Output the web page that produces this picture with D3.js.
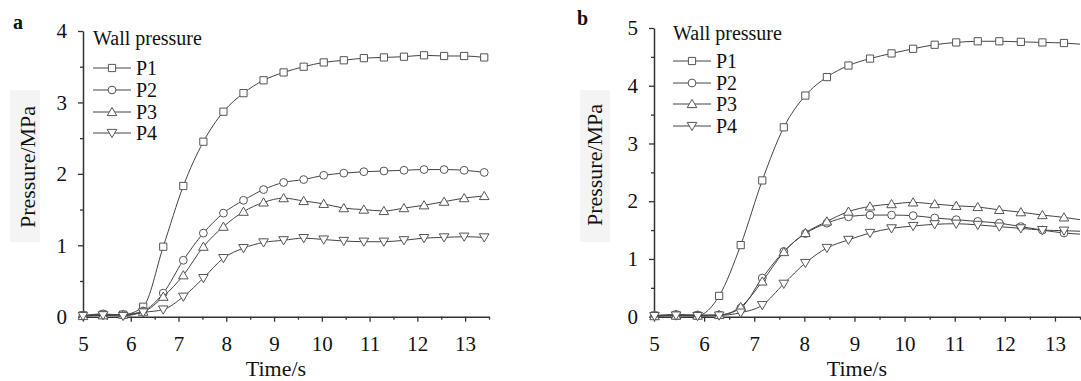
<!DOCTYPE html>
<html>
<head>
<meta charset="utf-8">
<script src="https://cdn.jsdelivr.net/npm/d3@7/dist/d3.min.js"></script>
<style>
  body { margin: 0; background: #fff; }
  svg { display: block; }
  svg text { font-family: "Liberation Serif", "Times New Roman", serif !important; }
</style>
</head>
<body>
<svg width="1081" height="381"></svg>
<script>
// marker times (s) and wall pressures (MPa)
var timeA = [5.00, 5.42, 5.84, 6.26, 6.68, 7.10, 7.52, 7.94, 8.36, 8.78, 9.20, 9.62, 10.04, 10.46, 10.88, 11.30, 11.72, 12.14, 12.56, 12.98, 13.40]
var p1A = [0.02, 0.03, 0.03, 0.14, 0.98, 1.83, 2.45, 2.87, 3.13, 3.31, 3.42, 3.50, 3.56, 3.59, 3.62, 3.63, 3.64, 3.66, 3.65, 3.65, 3.63]
var p2A = [0.01, 0.04, 0.02, 0.08, 0.33, 0.79, 1.17, 1.45, 1.63, 1.78, 1.88, 1.92, 1.98, 2.01, 2.03, 2.04, 2.05, 2.06, 2.06, 2.05, 2.02]
var p3A = [0.01, 0.02, 0.03, 0.07, 0.28, 0.58, 0.98, 1.26, 1.47, 1.60, 1.66, 1.62, 1.58, 1.52, 1.50, 1.48, 1.52, 1.56, 1.61, 1.66, 1.69]
var p4A = [0.01, 0.02, 0.01, 0.06, 0.10, 0.28, 0.54, 0.82, 0.96, 1.04, 1.07, 1.10, 1.08, 1.06, 1.05, 1.05, 1.07, 1.10, 1.11, 1.12, 1.11]

// panel b: last point is where the line meets the right edge (no marker)
var timeB = [5.01, 5.44, 5.87, 6.30, 6.73, 7.16, 7.59, 8.02, 8.45, 8.88, 9.31, 9.74, 10.17, 10.60, 11.03, 11.46, 11.89, 12.32, 12.75, 13.18, 13.50]
var p1B = [0.02, 0.02, 0.02, 0.36, 1.24, 2.36, 3.28, 3.83, 4.15, 4.35, 4.47, 4.56, 4.64, 4.71, 4.75, 4.77, 4.77, 4.76, 4.75, 4.74, 4.72]
var p2B = [0.02, 0.04, 0.03, 0.03, 0.15, 0.67, 1.13, 1.44, 1.62, 1.73, 1.76, 1.76, 1.75, 1.71, 1.68, 1.65, 1.62, 1.56, 1.50, 1.45, 1.43]
var p3B = [0.01, 0.02, 0.02, 0.03, 0.17, 0.61, 1.12, 1.45, 1.65, 1.82, 1.91, 1.95, 1.98, 1.95, 1.92, 1.90, 1.85, 1.81, 1.76, 1.72, 1.68]
var p4B = [0.01, 0.02, 0.01, 0.02, 0.07, 0.20, 0.57, 0.93, 1.19, 1.33, 1.45, 1.53, 1.57, 1.60, 1.61, 1.59, 1.56, 1.53, 1.50, 1.49, 1.48]

var seriesNames = ['P1', 'P2', 'P3', 'P4']
var symbols = ['square', 'circle', 'up', 'down']
var xTicks = [5, 6, 7, 8, 9, 10, 11, 12, 13]
var xMinor = [5.5, 6.5, 7.5, 8.5, 9.5, 10.5, 11.5, 12.5, 13.5]
var yTicksA = [0, 1, 2, 3, 4]
var yMinorA = [0.5, 1.5, 2.5, 3.5]
var yTicksB = [0, 1, 2, 3, 4, 5]
var yMinorB = [0.5, 1.5, 2.5, 3.5, 4.5]

const svg = d3.select('svg')

var panels = [
  { tag: 'a', tagX: 13, tagY: 29, time: timeA, vals: [p1A, p2A, p3A, p4A], marks: 21,
    x: d3.scaleLinear().domain([5, 13.5]).range([83, 489]),
    y: d3.scaleLinear().domain([0, 4]).range([316.7, 31]),
    yTicks: yTicksA, yMinor: yMinorA,
    legX: 93, legTitleY: 45, legY: [68, 90, 112, 133],
    yTitle: [35, 167], boxX: 10, xTitle: [276, 376] },
  { tag: 'b', tagX: 577, tagY: 25, time: timeB, vals: [p1B, p2B, p3B, p4B], marks: 20,
    x: d3.scaleLinear().domain([5, 13.5]).range([654, 1080]),
    y: d3.scaleLinear().domain([0, 5]).range([316.7, 28]),
    yTicks: yTicksB, yMinor: yMinorB,
    legX: 673, legTitleY: 40, legY: [61, 83, 104, 126],
    yTitle: [602, 165], boxX: 580, xTitle: [857, 376] }
]

function markerPath(kind) {
  if (kind === 'square') return 'M-3.6,-3.6H3.6V3.6H-3.6Z'
  if (kind === 'circle') return d3.symbol(d3.symbolCircle, 48)()
  if (kind === 'up') return 'M0,-4.6L4.8,3.6L-4.8,3.6Z'
  return 'M0,4.6L4.8,-3.6L-4.8,-3.6Z'
}

panels.forEach(function(p) {
  var g = svg.append('g')

  // faint box behind the y title, as in the scan
  g.append('rect')
    .attr('x', p.boxX).attr('y', 90)
    .attr('width', 30).attr('height', 152)
    .attr('fill', '#f4f4f4')

  g.append('text')
    .attr('x', p.tagX).attr('y', p.tagY)
    .attr('font-size', 20).attr('font-weight', 'bold').attr('fill', '#111')
    .text(p.tag)

  // axes
  g.append('g')
    .attr('transform', 'translate(' + p.x.range()[0] + ',0)')
    .call(d3.axisLeft(p.y).tickValues(p.yTicks).tickFormat(d3.format('d'))
      .tickSize(5).tickSizeOuter(0).tickPadding(11))
  var yMinorAx = g.append('g')
    .attr('transform', 'translate(' + p.x.range()[0] + ',0)')
    .call(d3.axisLeft(p.y).tickValues(p.yMinor).tickSize(3).tickFormat(''))
  yMinorAx.select('.domain').remove()

  g.append('g')
    .attr('transform', 'translate(0,' + p.y.range()[0] + ')')
    .call(d3.axisBottom(p.x).tickValues(xTicks).tickFormat(d3.format('d'))
      .tickSize(5).tickSizeOuter(0).tickPadding(14))
  var xMinorAx = g.append('g')
    .attr('transform', 'translate(0,' + p.y.range()[0] + ')')
    .call(d3.axisBottom(p.x).tickValues(xMinor).tickSize(3).tickFormat(''))
  xMinorAx.select('.domain').remove()

  g.selectAll('.domain').attr('stroke', '#333').attr('stroke-width', 1.5)
  g.selectAll('.tick line').attr('stroke', '#333').attr('stroke-width', 1.3)
  g.selectAll('.tick text')
    .attr('font-size', 21).attr('fill', '#111')

  g.append('text')
    .attr('x', p.xTitle[0]).attr('y', p.xTitle[1])
    .attr('text-anchor', 'middle').attr('font-size', 22).attr('fill', '#111')
    .text('Time/s')

  g.append('text')
    .attr('transform', 'translate(' + p.yTitle[0] + ',' + p.yTitle[1] + ') rotate(-90)')
    .attr('text-anchor', 'middle').attr('font-size', 22).attr('fill', '#111')
    .text('Pressure/MPa')

  // series
  var line = d3.line()
    .x(function(d) { return p.x(d[0]) })
    .y(function(d) { return p.y(d[1]) })
    .curve(d3.curveMonotoneX)

  p.vals.forEach(function(vals, si) {
    var pts = vals.map(function(v, i) { return [p.time[i], v] })
    g.append('path')
      .datum(pts)
      .attr('d', line)
      .attr('fill', 'none')
      .attr('stroke', '#444')
      .attr('stroke-width', 1)

    g.selectAll('.m' + si)
      .data(pts.slice(0, p.marks))
      .enter().append('path')
        .attr('class', 'm' + si)
        .attr('d', markerPath(symbols[si]))
        .attr('transform', function(d) { return 'translate(' + p.x(d[0]) + ',' + p.y(d[1]) + ')' })
        .attr('fill', '#fff')
        .attr('stroke', '#555')
        .attr('stroke-width', 1)
  })

  // legend
  g.append('text')
    .attr('x', p.legX).attr('y', p.legTitleY)
    .attr('font-size', 20).attr('fill', '#111')
    .text('Wall pressure')

  seriesNames.forEach(function(name, si) {
    var ly = p.legY[si]
    g.append('line')
      .attr('x1', p.legX).attr('x2', p.legX + 38)
      .attr('y1', ly).attr('y2', ly)
      .attr('stroke', '#444').attr('stroke-width', 1)
    g.append('path')
      .attr('d', markerPath(symbols[si]))
      .attr('transform', 'translate(' + (p.legX + 19) + ',' + ly + ')')
      .attr('fill', '#fff').attr('stroke', '#555')
    g.append('text')
      .attr('x', p.legX + 43).attr('y', ly + 7)
      .attr('font-size', 20).attr('fill', '#111')
      .text(name)
  })
})
</script>
</body>
</html>
